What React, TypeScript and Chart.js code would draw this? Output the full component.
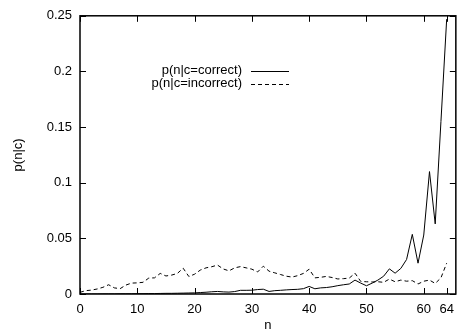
import React, { useEffect, useRef } from "react";
import { Chart, registerables } from "chart.js";

Chart.register(...registerables);

const nValues = [
  0, 1, 2, 3, 4, 5, 6, 7, 8, 9, 10, 11, 12, 13, 14, 15, 16, 17, 18, 19, 20,
  21, 22, 23, 24, 25, 26, 27, 28, 29, 30, 31, 32, 33, 34, 35, 36, 37, 38, 39,
  40, 41, 42, 43, 44, 45, 46, 47, 48, 49, 50, 51, 52, 53, 54, 55, 56, 57, 58,
  59, 60, 61, 62, 63, 64,
];

const pCorrect = [
  0, 0, 0, 0, 0.0001, 0.0001, 0.0001, 0.0002, 0.0002, 0.0002, 0.0003, 0.0003,
  0.0004, 0.0004, 0.0005, 0.0006, 0.0006, 0.0007, 0.0008, 0.0009, 0.001,
  0.0013, 0.0016, 0.002, 0.0023, 0.0019, 0.0017, 0.0022, 0.0033, 0.0033,
  0.0034, 0.004, 0.0043, 0.0023, 0.003, 0.0033, 0.0037, 0.004, 0.0042, 0.0048,
  0.0068, 0.0047, 0.0055, 0.0058, 0.0065, 0.0075, 0.0083, 0.009, 0.0125,
  0.0098, 0.0074, 0.0098, 0.0125, 0.016, 0.0226, 0.0187, 0.023, 0.031, 0.0536,
  0.0277, 0.053, 0.11, 0.063, 0.155, 0.247,
];

const pIncorrect = [
  0.0015, 0.003, 0.0035, 0.0045, 0.006, 0.0083, 0.0055, 0.0048, 0.008, 0.0098,
  0.01, 0.0105, 0.0143, 0.0145, 0.0185, 0.0162, 0.017, 0.0185, 0.0232, 0.0157,
  0.0178, 0.0215, 0.0235, 0.0245, 0.026, 0.0225, 0.0208, 0.0235, 0.0246,
  0.0235, 0.0223, 0.0198, 0.025, 0.0205, 0.019, 0.0175, 0.016, 0.0152, 0.0165,
  0.0185, 0.0223, 0.0145, 0.015, 0.0158, 0.0148, 0.0135, 0.0138, 0.0143,
  0.0187, 0.0113, 0.011, 0.0108, 0.011, 0.0105, 0.0134, 0.011, 0.0125, 0.0115,
  0.012, 0.009, 0.0115, 0.0125, 0.0095, 0.0145, 0.0277,
];

const xTicks = [0, 10, 20, 30, 40, 50, 60, 64];
const yTicks = [0, 0.05, 0.1, 0.15, 0.2, 0.25];
const seriesLabels = ["p(n|c=correct)", "p(n|c=incorrect)"];

const FONT = "Liberation Sans, Arial, Helvetica, sans-serif";

const frameTicksPlugin = {
  id: "frameTicks",
  afterDatasetsDraw(chart: any) {
    const { ctx, chartArea } = chart;
    const { left, right, top, bottom } = chartArea;
    const xs = chart.scales.x;
    const ys = chart.scales.y;
    const len = 6;
    ctx.save();
    ctx.strokeStyle = "#000";
    ctx.lineWidth = 1;
    ctx.beginPath();
    for (const t of xTicks) {
      const px = Math.round(xs.getPixelForValue(t)) + 0.5;
      ctx.moveTo(px, bottom);
      ctx.lineTo(px, bottom - len);
      ctx.moveTo(px, top);
      ctx.lineTo(px, top + len);
    }
    for (const t of yTicks) {
      const py = Math.round(ys.getPixelForValue(t)) + 0.5;
      ctx.moveTo(left, py);
      ctx.lineTo(left + len, py);
      ctx.moveTo(right, py);
      ctx.lineTo(right - len, py);
    }
    ctx.stroke();
    ctx.lineWidth = 1.5;
    ctx.strokeRect(left, top, right - left, bottom - top);
    ctx.restore();
  },
};

const legendPlugin = {
  id: "gnuLegend",
  afterDatasetsDraw(chart: any) {
    const { ctx } = chart;
    ctx.save();
    ctx.font = `13px ${FONT}`;
    ctx.fillStyle = "#000";
    ctx.textAlign = "right";
    ctx.textBaseline = "middle";
    chart.data.datasets.forEach((ds: any, i: number) => {
      const y = 70.5 + i * 13;
      ctx.fillText(ds.label, 242, y);
      ctx.beginPath();
      ctx.strokeStyle = "#000";
      ctx.lineWidth = 1;
      ctx.setLineDash(ds.borderDash || []);
      ctx.moveTo(251, Math.round(y) + 0.5);
      ctx.lineTo(289, Math.round(y) + 0.5);
      ctx.stroke();
    });
    ctx.restore();
  },
};

export default function App() {
  const ref = useRef<HTMLCanvasElement | null>(null);

  useEffect(() => {
    document.body.style.margin = "0";
    document.body.style.overflow = "hidden";
    const canvas = ref.current;
    if (!canvas) return;
    const chart = new Chart(canvas, {
      type: "line",
      data: {
        datasets: [
          {
            label: seriesLabels[0],
            data: nValues.map((n, i) => ({ x: n, y: pCorrect[i] })),
            borderColor: "#000",
            borderWidth: 1,
            pointRadius: 0,
            tension: 0,
            fill: false,
          },
          {
            label: seriesLabels[1],
            data: nValues.map((n, i) => ({ x: n, y: pIncorrect[i] })),
            borderColor: "#000",
            borderWidth: 1,
            borderDash: [4, 3],
            pointRadius: 0,
            tension: 0,
            fill: false,
          },
        ],
      },
      options: {
        animation: false,
        responsive: false,
        devicePixelRatio: 1,
        layout: { padding: { top: 14, right: 4, left: 0, bottom: 0 } },
        plugins: {
          legend: { display: false },
          tooltip: { enabled: false },
        },
        scales: {
          x: {
            type: "linear",
            min: 0,
            max: 65.6,
            grid: { display: false, drawTicks: false },
            border: { display: false },
            afterBuildTicks: (scale: any) => {
              scale.ticks = xTicks.map((v) => ({ value: v }));
            },
            afterFit: (scale: any) => {
              scale.height = 37;
            },
            ticks: {
              color: "#000",
              padding: 8,
              maxRotation: 0,
              autoSkip: false,
              font: { family: FONT, size: 13 },
              callback: (v: any) => String(v),
            },
            title: {
              display: true,
              text: "n",
              color: "#000",
              padding: { top: 0, bottom: -2 },
              font: { family: FONT, size: 13 },
            },
          },
          y: {
            type: "linear",
            min: 0,
            max: 0.25,
            grid: { display: false, drawTicks: false },
            border: { display: false },
            afterBuildTicks: (scale: any) => {
              scale.ticks = yTicks.map((v) => ({ value: v }));
            },
            afterFit: (scale: any) => {
              scale.width = 80;
            },
            ticks: {
              color: "#000",
              padding: 8,
              autoSkip: false,
              font: { family: FONT, size: 13 },
              callback: (v: any) => String(Math.round(v * 100) / 100),
            },
            title: {
              display: true,
              text: "p(n|c)",
              color: "#000",
              padding: { top: 11, bottom: 0 },
              font: { family: FONT, size: 13 },
            },
          },
        },
      },
      plugins: [frameTicksPlugin, legendPlugin],
    });
    return () => chart.destroy();
  }, []);

  return (
    <canvas
      ref={ref}
      width={462}
      height={331}
      style={{ display: "block", width: "462px", height: "331px" }}
    />
  );
}
